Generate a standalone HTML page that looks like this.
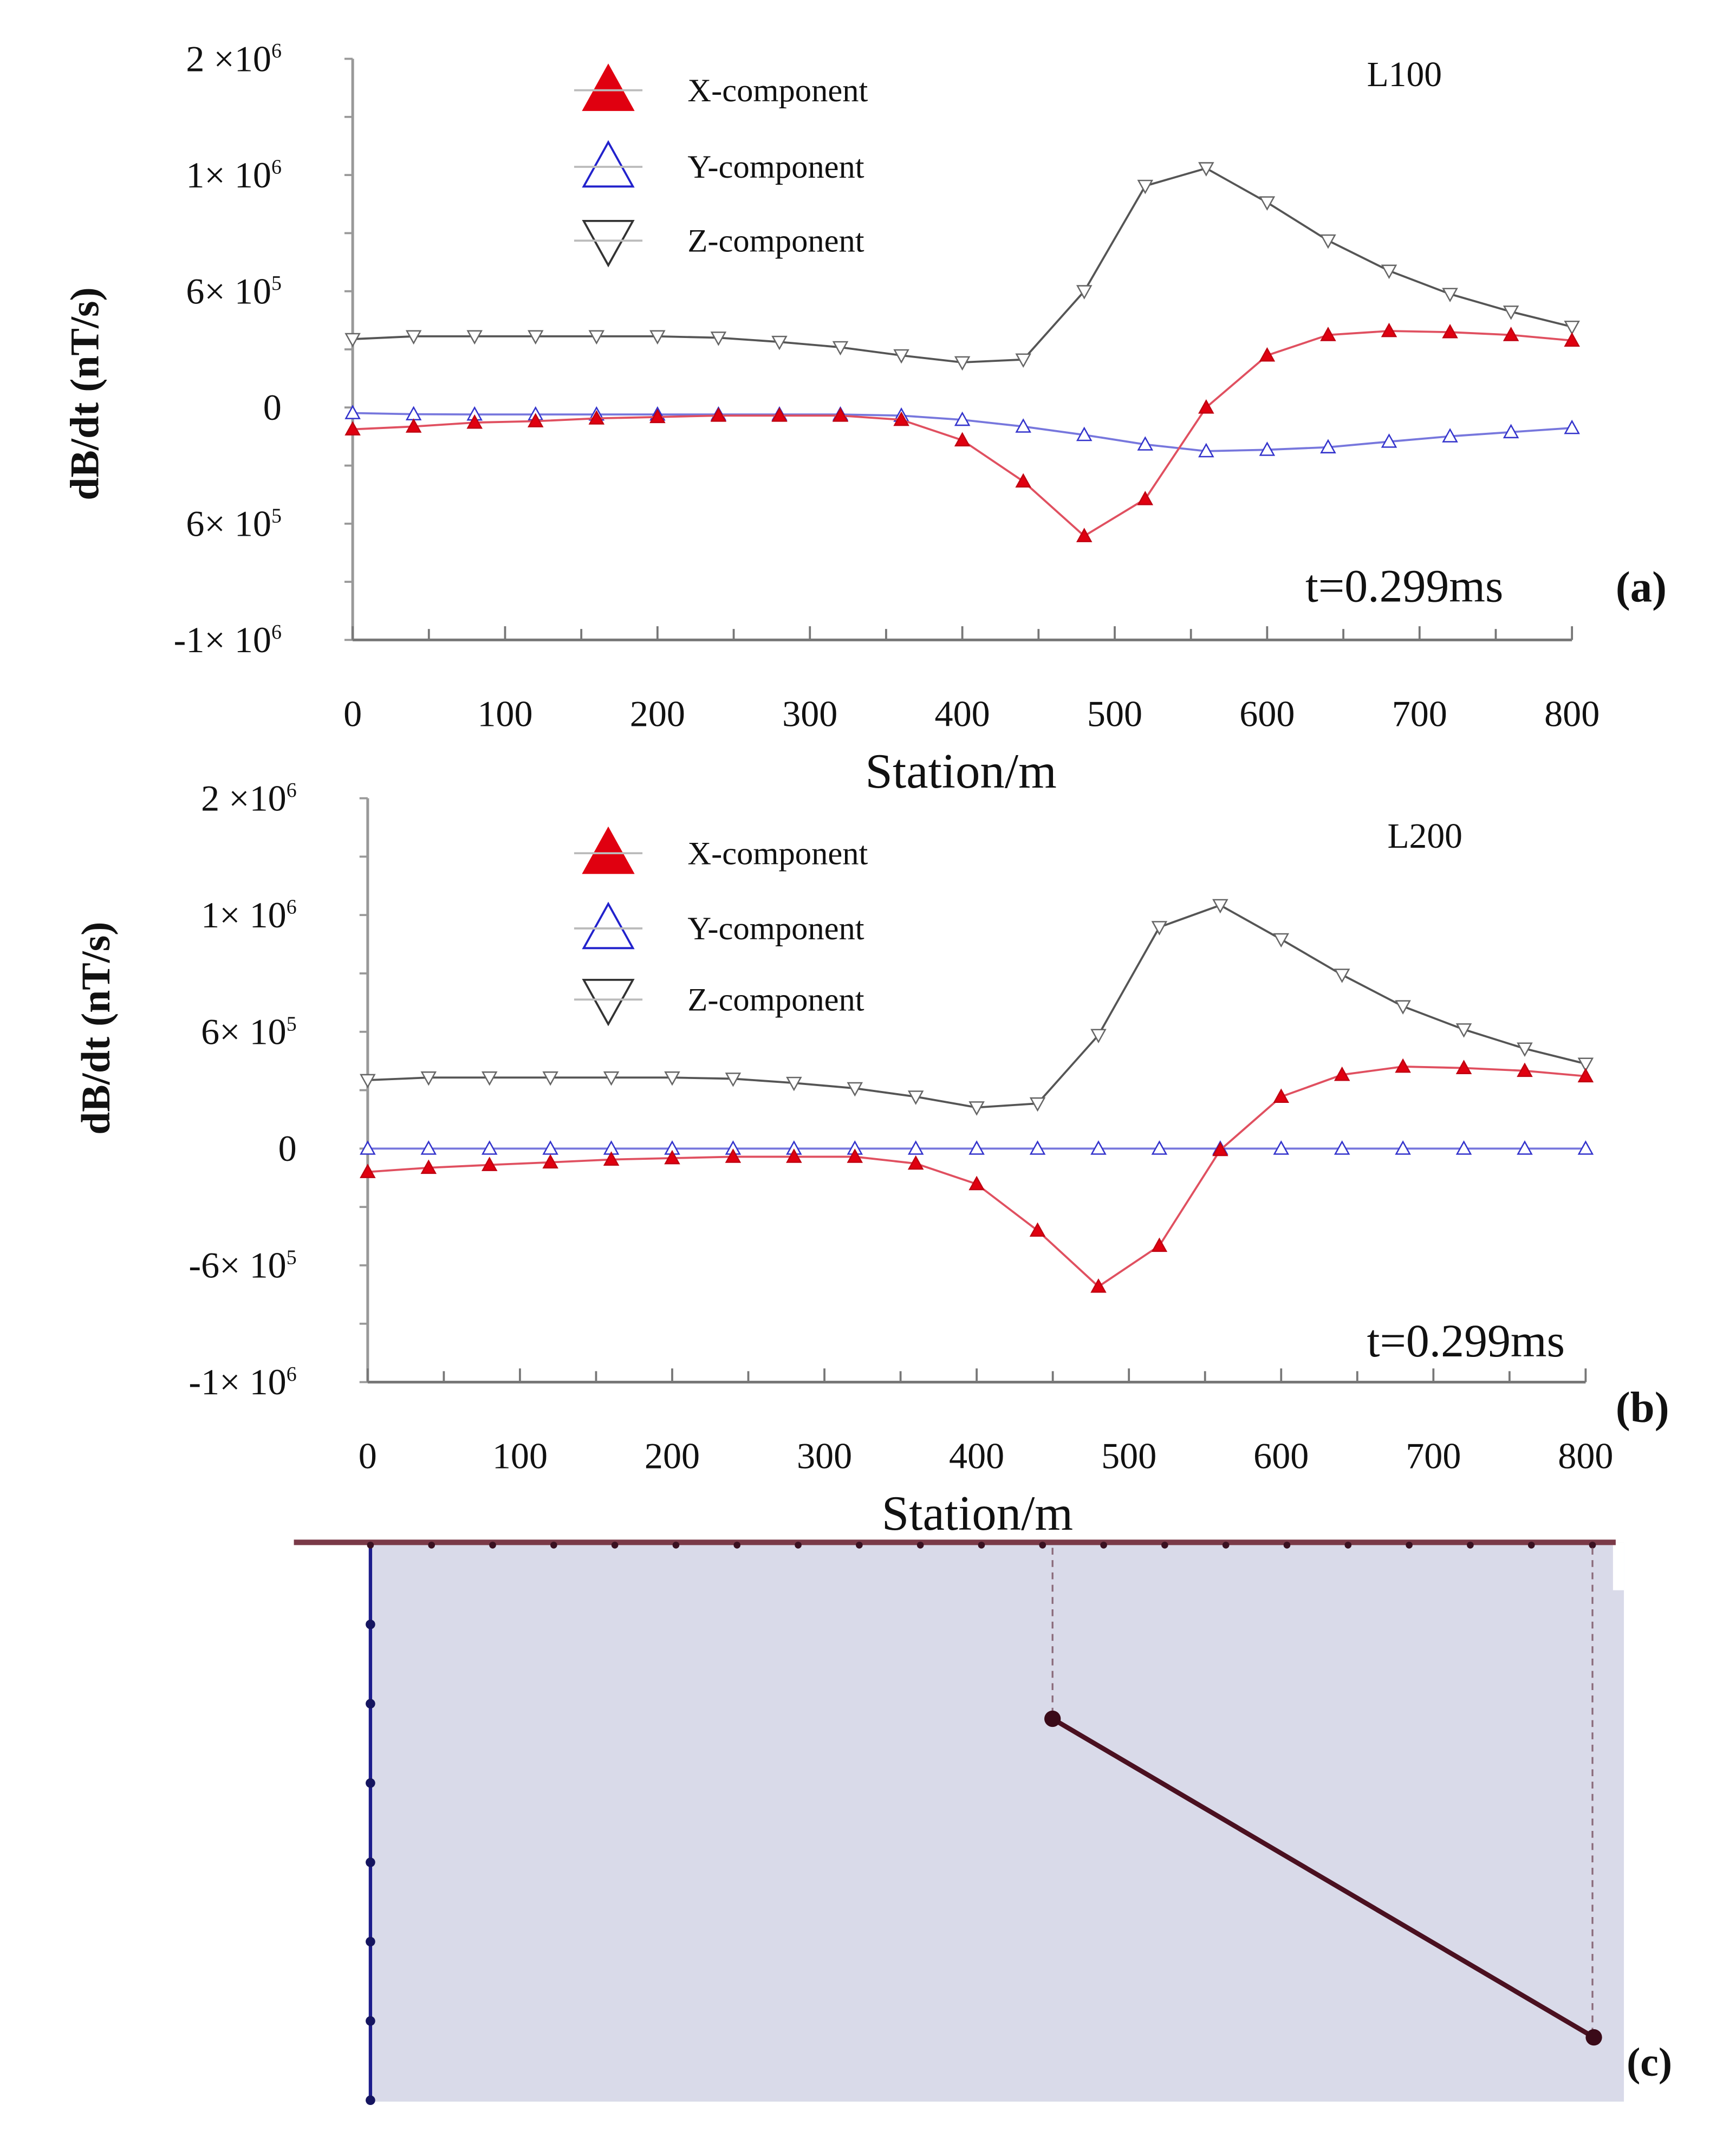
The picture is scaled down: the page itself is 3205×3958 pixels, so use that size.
<!DOCTYPE html>
<html><head><meta charset="utf-8">
<style>
html,body{margin:0;padding:0;background:#fff;}
svg{display:block;}
text{font-family:"Liberation Serif",serif;fill:#111;}
</style></head>
<body>
<svg id="fig" width="3205" height="3958" viewBox="0 0 1270 1568" preserveAspectRatio="none" xmlns="http://www.w3.org/2000/svg">
<g id="pa"></g>
<g id="pb"></g>
<g id="pc">
  <rect x="272" y="1128" width="916" height="409" fill="#d9dae9"/>
  <rect x="1180" y="1128" width="8" height="35" fill="#fff"/>
  <line x1="215" y1="1128" x2="1182" y2="1128" stroke="#7a3a48" stroke-width="4"/>
  <line x1="271" y1="1128" x2="271" y2="1537" stroke="#1c1c8c" stroke-width="2.5"/>
  <g id="bh"></g>
  <g id="sd"></g>
  <line x1="770" y1="1132" x2="770" y2="1256" stroke="#8a6a7a" stroke-width="1.3" stroke-dasharray="5,4"/>
  <line x1="1165" y1="1132" x2="1165" y2="1490" stroke="#8a6a7a" stroke-width="1.3" stroke-dasharray="5,4"/>
  <line x1="770" y1="1257" x2="1166" y2="1490" stroke="#4a1020" stroke-width="3.5"/>
  <circle cx="770" cy="1257" r="6" fill="#3a0a18"/>
  <circle cx="1166" cy="1490" r="6" fill="#3a0a18"/>
  <text x="1190" y="1518" font-size="30" font-weight="bold">(c)</text>
</g>
</svg>
<script>
const stations = [0,40,80,120,160,200,240,280,320,360,400,440,480,520,560,600,640,680,720,760,800];
const xTicks = [0,100,200,300,400,500,600,700,800];
const yTickVals = [1.5,1,0.5,0,-0.5,-1];
const yTickMant = ["2 ×10","1× 10","6× 10","0","6× 10","-1× 10"];
const yTickExpA = ["6","6","5","","5","6"];
const yTickMantB = ["2 ×10","1× 10","6× 10","0","-6× 10","-1× 10"];
const zA = [.294,.306,.306,.306,.306,.306,.300,.282,.259,.224,.194,.206,.500,.953,1.029,.882,.718,.588,.488,.412,.347];
const xA = [-.094,-.082,-.065,-.059,-.047,-.041,-.035,-.035,-.035,-.053,-.141,-.318,-.553,-.394,0,.224,.312,.329,.324,.312,.288];
const yA = [-.024,-.029,-.03,-.03,-.03,-.03,-.03,-.03,-.03,-.035,-.053,-.082,-.118,-.159,-.188,-.182,-.171,-.147,-.124,-.106,-.088];
const zB = [.293,.304,.304,.304,.304,.304,.299,.281,.258,.222,.176,.193,.486,.948,1.042,.896,.744,.609,.51,.428,.363];
const xB = [-.1,-.082,-.07,-.059,-.047,-.041,-.035,-.035,-.035,-.064,-.152,-.351,-.591,-.416,-.006,.222,.316,.351,.345,.333,.31];
const yB = [0,0,0,0,0,0,0,0,0,0,0,0,0,0,0,0,0,0,0,0,0];
const boreholeDepths = [1,2,3,4,5,6,7];
const surfaceStations = [0,40,80,120,160,200,240,280,320,360,400,440,480,520,560,600,640,680,720,760,800];

const NS="http://www.w3.org/2000/svg";
function el(p,tag,attrs){const e=document.createElementNS(NS,tag);for(const k in attrs)e.setAttribute(k,attrs[k]);p.appendChild(e);return e;}

function tri(cx,cy,s,up){return up?`${cx},${cy-s} ${cx-s},${cy+s*0.8} ${cx+s},${cy+s*0.8}`:`${cx},${cy+s} ${cx-s},${cy-s*0.8} ${cx+s},${cy-s*0.8}`;}

function panel(g,cfg){
  const X=v=>cfg.x0+(v-0)/(800)*(cfg.x1-cfg.x0);
  const Y=v=>cfg.yZero-v*cfg.unit;
  const yTop=Y(1.5), yBot=Y(-1);
  let a=el(g,'line',{x1:cfg.x0,y1:yTop,x2:cfg.x0,y2:yBot,stroke:'#999',"stroke-width":2});
  
  
  a=el(g,'line',{x1:cfg.x0,y1:yBot,x2:cfg.x1,y2:yBot,stroke:'#777',"stroke-width":2});
  
  
  for(let v=-1;v<=1.5001;v+=0.25){
    const t=el(g,'line',{x1:cfg.x0-6,y1:Y(v),x2:cfg.x0,y2:Y(v),stroke:'#999',"stroke-width":1.5});
    
    
  }
  yTickVals.forEach((v,i)=>{
    const t=el(g,'text',{x:cfg.x0-52,y:Y(v)+9,"font-size":27,"text-anchor":"end"});
    
    
    t.textContent=cfg.mant[i];
    if(yTickExpA[i]){const s=el(t,'tspan',{dy:-10,"font-size":15});s.textContent=yTickExpA[i];}
  });
  for(let s=0;s<=800;s+=50){
    const big=s%100===0;
    const t=el(g,'line',{x1:X(s),y1:yBot,x2:X(s),y2:yBot+(big?-10:-8),stroke:'#777',"stroke-width":1.5});
    
    
  }
  xTicks.forEach(v=>{
    const t=el(g,'text',{x:X(v),y:yBot+63,"font-size":27,"text-anchor":"middle"});
    
    
    t.textContent=v;
  });
  let t=el(g,'text',{x:cfg.titleX,y:yBot+108,"font-size":36,"text-anchor":"middle"});
  
  
  t.textContent='Station/m';
  t=el(g,'text',{x:0,y:0,"font-size":30,"font-weight":"bold","text-anchor":"middle",transform:`translate(${cfg.yTitleX},${cfg.yTitleY}) rotate(-90)`});
  
  
  t.textContent='dB/dt (nT/s)';
  const series=[
    {d:cfg.z,stroke:'#555',fill:'#fff',ms:'#666',up:false,name:'z-component'},
    {d:cfg.y,stroke:'#7777dd',fill:'#fff',ms:'#3333cc',up:true,name:'y-component'},
    {d:cfg.x,stroke:'#e05060',fill:'#e00010',ms:'#c00010',up:true,name:'x-component'}];
  series.forEach(s=>{
    const pl=el(g,'polyline',{points:stations.map((st,i)=>X(st)+','+Y(s.d[i])).join(' '),fill:'none',stroke:s.stroke,"stroke-width":1.5});
    
    
    stations.forEach((st,i)=>{
      const m=el(g,'polygon',{points:tri(X(st),Y(s.d[i]),5,s.up),fill:s.fill,stroke:s.ms,"stroke-width":1});
      
      
    });
  });
  const leg=[{l:'X-component',f:'#e00010',s:'#e00010',up:true},{l:'Y-component',f:'none',s:'#2222cc',up:true},{l:'Z-component',f:'none',s:'#333',up:false}];
  leg.forEach((L,i)=>{
    const y=cfg.legY[i];
    const m=el(g,'polygon',{points:tri(445,y,18,L.up),fill:L.f,stroke:L.s,"stroke-width":1.5});
    
    
    const ln=el(g,'line',{x1:420,y1:y,x2:470,y2:y,stroke:'#bbb',"stroke-width":1.5});
    
    
    const tx=el(g,'text',{x:503,y:y+8,"font-size":24});
    
    
    tx.textContent=L.l;
  });
  t=el(g,'text',{x:cfg.lineLabX,y:cfg.lineLabY,"font-size":26});
  
  
  t.textContent=cfg.lineLab;
  t=el(g,'text',{x:cfg.timeX,y:cfg.timeY,"font-size":34});
  
  
  t.textContent='t=0.299ms';
  t=el(g,'text',{x:1182,y:cfg.panY,"font-size":32,"font-weight":"bold"});
  
  
  t.textContent=cfg.pan;
}
panel(document.getElementById('pa'),{x0:258,x1:1150,yZero:298,unit:170,z:zA,x:xA,y:yA,mant:yTickMant,titleX:703,yTitleX:72,yTitleY:288,legY:[66,122,176],lineLab:'L100',lineLabX:1000,lineLabY:63,timeX:955,timeY:440,pan:'(a)',panY:440});
panel(document.getElementById('pb'),{x0:269,x1:1160,yZero:840,unit:170.8,z:zB,x:xB,y:yB,mant:yTickMantB,titleX:715,yTitleX:80,yTitleY:752,legY:[624,679,731],lineLab:'L200',lineLabX:1015,lineLabY:620,timeX:1000,timeY:992,pan:'(b)',panY:1040});

const bh=document.getElementById('bh');
boreholeDepths.forEach(d=>{
  const c=el(bh,'circle',{cx:271,cy:1130+d*58,r:3.5,fill:'#151560'});
  
  
});
const sd=document.getElementById('sd');
surfaceStations.forEach(s=>{
  const c=el(sd,'circle',{cx:271+s/800*(1165-271),cy:1130,r:2.5,fill:'#3a1020'});
  
  
});
</script>
</body></html>
